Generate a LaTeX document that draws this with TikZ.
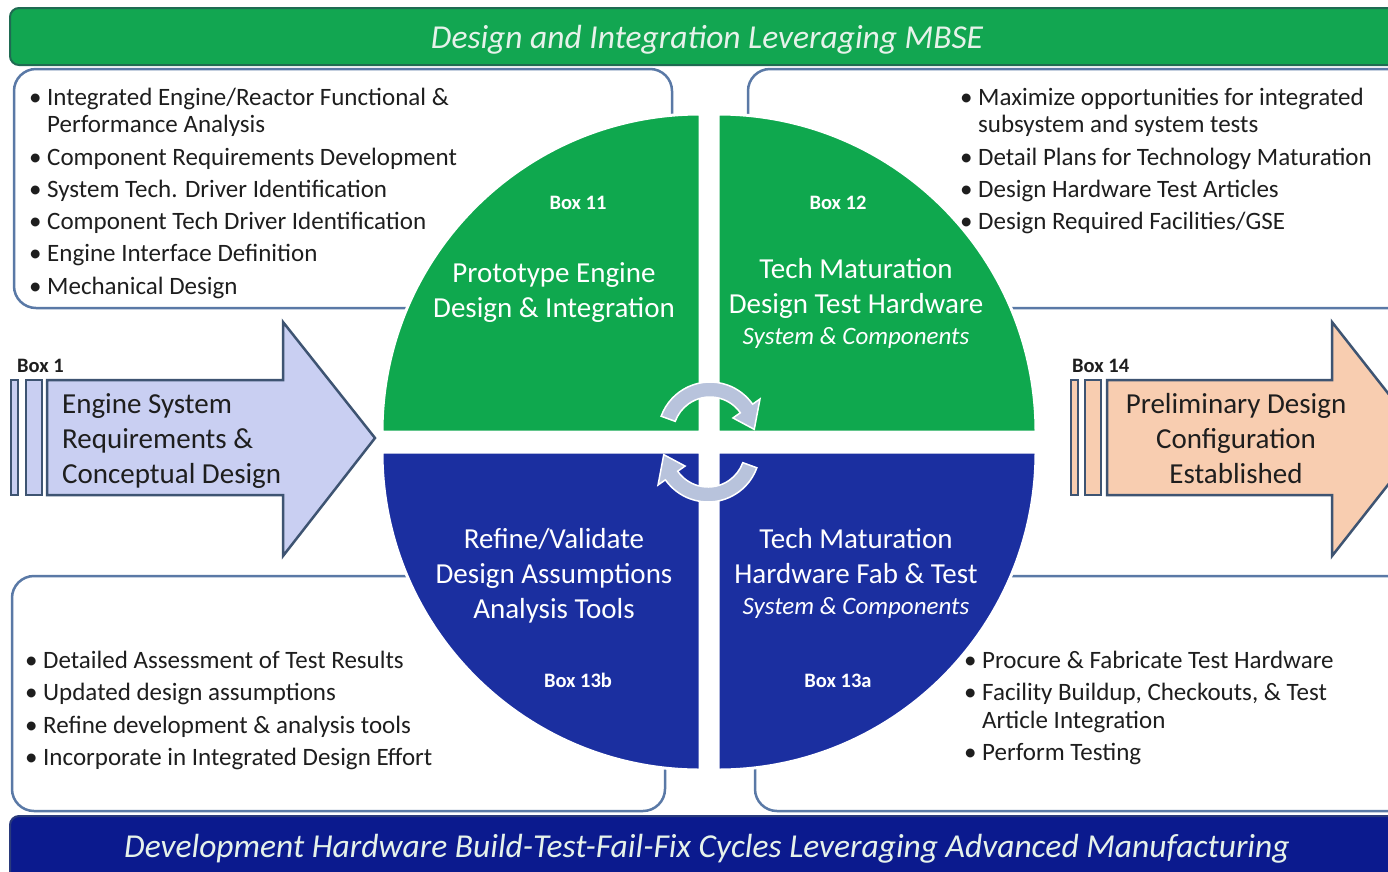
\documentclass[tikz,border=0pt]{standalone}
\usepackage{fontspec}
\setmainfont{Carlito}
\usetikzlibrary{calc}
\definecolor{qgreen}{HTML}{0FA84E}
\definecolor{bargreen}{HTML}{12A651}
\definecolor{bargreenb}{HTML}{1F6B52}
\definecolor{qblue}{HTML}{1B2FA0}
\definecolor{barblue}{HTML}{0B1A8E}
\definecolor{barblueb}{HTML}{2A3A7C}
\definecolor{boxline}{HTML}{5A79A6}
\definecolor{arrline}{HTML}{3E5472}
\definecolor{lav}{HTML}{C9CFF2}
\definecolor{peach}{HTML}{F8CDB0}
\definecolor{cyc}{HTML}{B8C3DC}
\definecolor{txtc}{HTML}{1E1E1E}
\definecolor{bartext}{HTML}{E6F2EA}
\newcommand\bli[4]{\node[btxt] (#1) at (#2,#3) {\makebox[18pt][l]{\textbullet}#4};}
\newcommand\blc[4]{\node[btxt] (#1) at (#2,#3) {#4};}
\begin{document}
\begin{tikzpicture}[x=1pt,y=-1pt,
  btxt/.style={anchor=base west, inner sep=0pt, font=\fontsize{25}{29}\selectfont, text=txtc},
  qtxt/.style={anchor=base, inner sep=0pt, font=\fontsize{29}{33}\selectfont, text=white},
  qsub/.style={anchor=base, inner sep=0pt, font=\fontsize{25}{29}\selectfont\itshape, text=white},
  qbox/.style={anchor=base, inner sep=0pt, font=\fontsize{20.5}{24}\selectfont\bfseries, text=white},
  atxt/.style={inner sep=0pt, font=\fontsize{29}{33}\selectfont, text=txtc},
  abox/.style={anchor=base west, inner sep=0pt, font=\fontsize{20.5}{24}\selectfont\bfseries, text=txtc},
  infobox/.style={draw=boxline, line width=2.5pt, fill=white, rounded corners=22pt},
  arrowshape/.style={draw=arrline, line width=2.5pt, line join=miter},
  cycarrow/.style={fill=cyc, draw=white, line width=1.5pt},
  bartxt/.style={anchor=base, inner sep=0pt, font=\fontsize{33.5}{37}\selectfont\itshape, text=bartext}
]
\useasboundingbox (0,0) rectangle (1388,871);
\clip (0,0) rectangle (1388,871);
\fill[white] (0,0) rectangle (1388,871);

% bars
\draw[fill=bargreen, draw=bargreenb, line width=2pt, rounded corners=9pt] (10,8) rectangle (1410,65);
\node[bartxt] (topbar) at (707,48) {Design and Integration Leveraging MBSE};
\draw[fill=barblue, draw=barblueb, line width=2pt, rounded corners=9pt] (10,816) rectangle (1410,880);
\node[bartxt] (botbar) at (707,857) {Development Hardware Build-Test-Fail-Fix Cycles Leveraging Advanced Manufacturing};

% info boxes
\draw[infobox] (14,69) rectangle (672,308);
\draw[infobox] (748,69) rectangle (1410,308);
\draw[infobox] (12,576) rectangle (665,811);
\draw[infobox] (755,576) rectangle (1410,811);

% quadrants
\draw[fill=qgreen, draw=white, line width=3pt] (700,432) -- ++(-318,0) arc[start angle=180, end angle=270, radius=318] -- cycle;
\draw[fill=qgreen, draw=white, line width=3pt] (718,432) -- ++(0,-318) arc[start angle=270, end angle=360, radius=318] -- cycle;
\draw[fill=qblue, draw=white, line width=3pt] (718,452) -- ++(318,0) arc[start angle=0, end angle=90, radius=318] -- cycle;
\draw[fill=qblue, draw=white, line width=3pt] (700,452) -- ++(0,318) arc[start angle=90, end angle=180, radius=318] -- cycle;

% cycle arrows
\coordinate (c1) at (710,434);
\coordinate (c2) at (708,450);
\draw[cycarrow] ($(c1)+(-160:52)$) arc[start angle=-160, end angle=-35, radius=52]
  -- ($(c1)+(-35:61)$) -- ($(c1)+(-6:44.5)$) -- ($(c1)+(-35:28)$) -- ($(c1)+(-35:37)$)
  arc[start angle=-35, end angle=-160, radius=37] -- cycle;
\draw[cycarrow] ($(c2)+(20:52)$) arc[start angle=20, end angle=145, radius=52]
  -- ($(c2)+(145:61)$) -- ($(c2)+(174:44.5)$) -- ($(c2)+(145:28)$) -- ($(c2)+(145:37)$)
  arc[start angle=145, end angle=20, radius=37] -- cycle;

% quadrant texts
\node[qbox] (b11) at (578,209) {Box 11};
\node[qtxt] (q11a) at (554,282) {Prototype Engine};
\node[qtxt] (q11b) at (554,317) {Design \& Integration};
\node[qbox] (b12) at (838,209) {Box 12};
\node[qtxt] (q12a) at (856,278) {Tech Maturation};
\node[qtxt] (q12b) at (856,313) {Design Test Hardware};
\node[qsub] (q12c) at (856,344) {System \& Components};
\node[qtxt] (q13ba) at (554,548) {Refine/Validate};
\node[qtxt] (q13bb) at (554,583) {Design Assumptions};
\node[qtxt] (q13bc) at (554,618) {Analysis Tools};
\node[qbox] (b13b) at (578,687) {Box 13b};
\node[qtxt] (q13aa) at (856,548) {Tech Maturation};
\node[qtxt] (q13ab) at (856,583) {Hardware Fab \& Test};
\node[qsub] (q13ac) at (856,614) {System \& Components};
\node[qbox] (b13a) at (838,687) {Box 13a};

% left arrow
\draw[arrowshape, fill=lav] (11,380) rectangle (18,495);
\draw[arrowshape, fill=lav] (26,380) rectangle (42,495);
\draw[arrowshape, fill=lav] (47,380) -- (283,380) -- (283,322) -- (375,438) -- (283,556) -- (283,495) -- (47,495) -- cycle;
\node[abox] (box1) at (17,372) {Box 1};
\node[atxt, anchor=base west] (a1a) at (62,413) {Engine System};
\node[atxt, anchor=base west] (a1b) at (62,448) {Requirements \&};
\node[atxt, anchor=base west] (a1c) at (62,483) {Conceptual Design};

% right arrow
\draw[arrowshape, fill=peach] (1071,380) rectangle (1078,495);
\draw[arrowshape, fill=peach] (1085,380) rectangle (1101,495);
\draw[arrowshape, fill=peach] (1107,380) -- (1332,380) -- (1332,322) -- (1424,439) -- (1332,556) -- (1332,495) -- (1107,495) -- cycle;
\node[abox] (box14) at (1072,372) {Box 14};
\node[atxt, anchor=base] (a14a) at (1236,413) {Preliminary Design};
\node[atxt, anchor=base] (a14b) at (1236,448) {Configuration};
\node[atxt, anchor=base] (a14c) at (1236,483) {Established};

% bullets top-left
\bli{tl1}{29}{105}{Integrated Engine/Reactor Functional \&}
\blc{tl1b}{47}{132}{Performance Analysis}
\bli{tl2}{29}{165}{Component Requirements Development}
\bli{tl3}{29}{197}{System Tech. Driver Identification}
\bli{tl4}{29}{229}{Component Tech Driver Identification}
\bli{tl5}{29}{261}{Engine Interface Definition}
\bli{tl6}{29}{294}{Mechanical Design}

% bullets top-right
\bli{tr1}{960}{105}{Maximize opportunities for integrated}
\blc{tr1b}{978}{132}{subsystem and system tests}
\bli{tr2}{960}{165}{Detail Plans for Technology Maturation}
\bli{tr3}{960}{197}{Design Hardware Test Articles}
\bli{tr4}{960}{229}{Design Required Facilities/GSE}

% bullets bottom-left
\bli{bl1}{25}{668}{Detailed Assessment of Test Results}
\bli{bl2}{25}{700}{Updated design assumptions}
\bli{bl3}{25}{733}{Refine development \& analysis tools}
\bli{bl4}{25}{765}{Incorporate in Integrated Design Effort}

% bullets bottom-right
\bli{br1}{964}{668}{Procure \& Fabricate Test Hardware}
\bli{br2}{964}{700}{Facility Buildup, Checkouts, \& Test}
\blc{br2b}{982}{728}{Article Integration}
\bli{br3}{964}{760}{Perform Testing}
\end{tikzpicture}
\end{document}
